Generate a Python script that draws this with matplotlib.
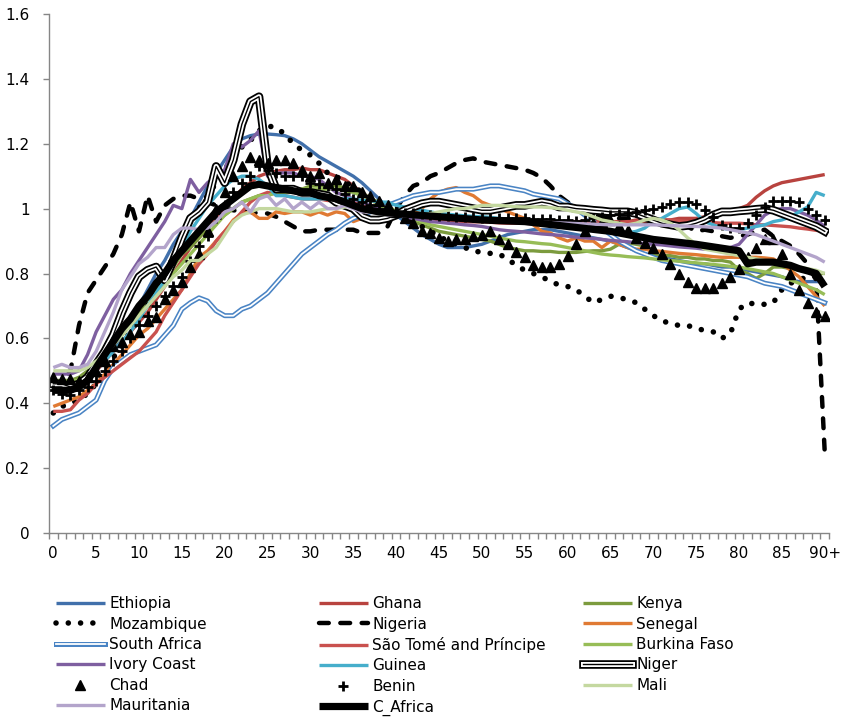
import numpy as np
import matplotlib.pyplot as plt

ages = np.arange(91)
age_ticks = list(range(0, 91, 5))
age_labels = [str(a) for a in range(0, 90, 5)] + ['90+']

ethiopia = [0.45, 0.45, 0.45, 0.46, 0.48, 0.50, 0.53, 0.57, 0.61, 0.65,
            0.70, 0.75, 0.80, 0.84, 0.89, 0.93, 0.97, 1.02, 1.07, 1.11,
            1.15, 1.19, 1.215, 1.225, 1.23, 1.23, 1.228, 1.225, 1.215, 1.20,
            1.18, 1.16, 1.145, 1.13, 1.115, 1.10, 1.08, 1.055, 1.03, 1.00,
            0.98, 0.96, 0.94, 0.92, 0.905, 0.89, 0.88, 0.88, 0.88, 0.885,
            0.89, 0.90, 0.91, 0.92, 0.925, 0.93, 0.935, 0.935, 0.935, 0.93,
            0.925, 0.92, 0.915, 0.91, 0.905, 0.90, 0.89, 0.88, 0.87, 0.86,
            0.855, 0.85, 0.845, 0.84, 0.835, 0.83, 0.83, 0.825, 0.82, 0.82,
            0.815, 0.81, 0.805, 0.80, 0.795, 0.79, 0.78, 0.775, 0.775, 0.775, 0.775]
ghana = [0.44, 0.44, 0.44, 0.45, 0.47, 0.50, 0.53, 0.56, 0.59, 0.62,
         0.65, 0.68, 0.72, 0.76, 0.80, 0.84, 0.88, 0.91, 0.94, 0.97,
         1.00, 1.03, 1.06, 1.08, 1.10, 1.11, 1.115, 1.12, 1.12, 1.125,
         1.12, 1.12, 1.11, 1.10, 1.09, 1.07, 1.05, 1.03, 1.01, 0.99,
         0.98, 0.975, 0.97, 0.97, 0.97, 0.97, 0.965, 0.965, 0.96, 0.96,
         0.96, 0.96, 0.96, 0.96, 0.96, 0.96, 0.96, 0.96, 0.96, 0.96,
         0.96, 0.96, 0.96, 0.96, 0.96, 0.96, 0.96, 0.96, 0.965, 0.965,
         0.965, 0.965, 0.965, 0.97, 0.97, 0.97, 0.975, 0.98, 0.985, 0.99,
         1.00, 1.01, 1.035, 1.055, 1.07, 1.08, 1.085, 1.09, 1.095, 1.10, 1.105]
kenya = [0.47, 0.47, 0.47, 0.48, 0.50, 0.52, 0.55, 0.58, 0.62, 0.65,
         0.68, 0.72, 0.75, 0.79, 0.82, 0.86, 0.88, 0.91, 0.94, 0.96,
         0.98, 1.00, 1.02, 1.03, 1.04, 1.04, 1.05, 1.05, 1.06, 1.06,
         1.07, 1.07, 1.07, 1.07, 1.065, 1.06, 1.05, 1.03, 1.02, 1.01,
         0.99, 0.97, 0.96, 0.95, 0.94, 0.93, 0.925, 0.92, 0.915, 0.91,
         0.905, 0.90, 0.89, 0.88, 0.875, 0.87, 0.87, 0.868, 0.868, 0.865,
         0.865, 0.865, 0.868, 0.87, 0.87, 0.875, 0.89, 0.895, 0.89, 0.885,
         0.86, 0.855, 0.855, 0.85, 0.85, 0.845, 0.845, 0.84, 0.84, 0.835,
         0.81, 0.80, 0.785, 0.80, 0.82, 0.82, 0.815, 0.81, 0.805, 0.80, 0.80]
mozambique = [0.37, 0.39, 0.40, 0.41, 0.43, 0.46, 0.50, 0.54, 0.58, 0.62,
              0.66, 0.70, 0.75, 0.80, 0.85, 0.90, 0.96, 1.00, 1.04, 1.08,
              1.12, 1.16, 1.19, 1.21, 1.24, 1.255, 1.25, 1.23, 1.20, 1.18,
              1.165, 1.14, 1.11, 1.10, 1.08, 1.07, 1.05, 1.03, 1.02, 1.00,
              0.99, 0.975, 0.96, 0.945, 0.93, 0.915, 0.90, 0.89, 0.88, 0.87,
              0.865, 0.862, 0.86, 0.845, 0.825, 0.81, 0.80, 0.79, 0.775, 0.765,
              0.76, 0.75, 0.73, 0.71, 0.72, 0.73, 0.725, 0.72, 0.71, 0.69,
              0.67, 0.655, 0.645, 0.64, 0.64, 0.63, 0.625, 0.62, 0.60, 0.615,
              0.69, 0.71, 0.705, 0.705, 0.71, 0.75, 0.77, 0.78, 0.79, 0.79, 0.78]
nigeria = [0.45, 0.46, 0.50, 0.64, 0.74, 0.78, 0.82, 0.86, 0.92, 1.02,
           0.93, 1.04, 0.96, 1.01, 1.03, 1.04, 1.04, 1.03, 1.02, 1.01,
           1.00, 0.995, 0.99, 0.99, 0.985, 0.985, 0.975, 0.96, 0.945, 0.93,
           0.93, 0.935, 0.935, 0.935, 0.935, 0.935, 0.925, 0.925, 0.925, 0.945,
           1.00, 1.04, 1.07, 1.08, 1.10, 1.11, 1.125, 1.14, 1.15, 1.155,
           1.145, 1.14, 1.135, 1.13, 1.125, 1.12, 1.11, 1.095, 1.07, 1.04,
           1.02, 1.00, 0.99, 0.98, 0.975, 0.97, 0.97, 0.97, 0.965, 0.96,
           0.96, 0.955, 0.955, 0.95, 0.945, 0.93, 0.935, 0.93, 0.915, 0.91,
           0.915, 0.92, 0.93, 0.935, 0.915, 0.90, 0.885, 0.86, 0.83, 0.78, 0.25]
senegal = [0.39, 0.40, 0.41, 0.42, 0.44, 0.46, 0.49, 0.52, 0.55, 0.58,
           0.61, 0.63, 0.66, 0.69, 0.72, 0.75, 0.80, 0.85, 0.87, 0.90,
           0.93, 0.965, 0.985, 0.99, 0.97, 0.97, 0.99, 0.985, 0.99, 0.99,
           0.98, 0.99, 0.98, 0.99, 0.985, 0.96, 0.97, 0.96, 0.96, 0.975,
           0.98, 0.985, 0.99, 1.00, 1.03, 1.05, 1.06, 1.065, 1.05, 1.04,
           1.02, 1.01, 1.00, 0.99, 0.98, 0.97, 0.95, 0.93, 0.925, 0.91,
           0.90, 0.91, 0.90, 0.90, 0.88, 0.90, 0.89, 0.88, 0.875, 0.875,
           0.87, 0.868, 0.865, 0.862, 0.86, 0.858, 0.855, 0.852, 0.85, 0.85,
           0.85, 0.85, 0.85, 0.848, 0.845, 0.83, 0.81, 0.79, 0.76, 0.73, 0.70]
south_africa = [0.33, 0.35, 0.36, 0.37, 0.39, 0.41, 0.47, 0.51, 0.53, 0.55,
                0.56, 0.57, 0.58, 0.61, 0.64, 0.69, 0.71, 0.725, 0.715, 0.685,
                0.67, 0.67, 0.69, 0.70, 0.72, 0.74, 0.77, 0.80, 0.83, 0.86,
                0.88, 0.90, 0.92, 0.935, 0.955, 0.97, 0.98, 0.99, 1.00, 1.01,
                1.02, 1.03, 1.04, 1.045, 1.05, 1.05, 1.055, 1.06, 1.06, 1.06,
                1.065, 1.07, 1.07, 1.065, 1.06, 1.055, 1.045, 1.04, 1.035, 1.03,
                1.015, 1.00, 0.98, 0.96, 0.94, 0.92, 0.90, 0.885, 0.87, 0.86,
                0.85, 0.84, 0.835, 0.83, 0.825, 0.82, 0.815, 0.81, 0.805, 0.80,
                0.795, 0.79, 0.78, 0.77, 0.765, 0.76, 0.75, 0.74, 0.73, 0.72, 0.71]
sao_tome = [0.375, 0.375, 0.38, 0.41, 0.43, 0.46, 0.48, 0.50, 0.52, 0.54,
            0.56, 0.59, 0.62, 0.67, 0.71, 0.75, 0.79, 0.83, 0.86, 0.90,
            0.93, 0.96, 0.99, 1.02, 1.04, 1.05, 1.045, 1.04, 1.035, 1.03,
            1.03, 1.03, 1.025, 1.025, 1.02, 1.02, 1.01, 1.00, 0.995, 0.99,
            0.985, 0.98, 0.975, 0.97, 0.97, 0.965, 0.965, 0.96, 0.96, 0.96,
            0.96, 0.958, 0.956, 0.955, 0.955, 0.955, 0.953, 0.952, 0.95, 0.95,
            0.95, 0.95, 0.952, 0.955, 0.955, 0.957, 0.958, 0.96, 0.96, 0.962,
            0.965, 0.965, 0.965, 0.962, 0.96, 0.96, 0.958, 0.957, 0.955, 0.955,
            0.955, 0.953, 0.95, 0.95, 0.948, 0.946, 0.944, 0.94, 0.937, 0.933, 0.93]
burkina = [0.47, 0.47, 0.47, 0.47, 0.49, 0.52, 0.55, 0.58, 0.61, 0.64,
           0.67, 0.70, 0.74, 0.77, 0.80, 0.83, 0.86, 0.89, 0.92, 0.95,
           0.98, 1.00, 1.02, 1.03, 1.04, 1.04, 1.05, 1.05, 1.05, 1.06,
           1.06, 1.06, 1.06, 1.06, 1.055, 1.05, 1.04, 1.03, 1.01, 1.00,
           0.99, 0.98, 0.97, 0.96, 0.95, 0.945, 0.94, 0.935, 0.93, 0.925,
           0.92, 0.915, 0.91, 0.905, 0.90, 0.898, 0.895, 0.892, 0.89, 0.885,
           0.88, 0.875, 0.87, 0.865, 0.86, 0.857, 0.855, 0.852, 0.85, 0.848,
           0.845, 0.842, 0.84, 0.838, 0.835, 0.833, 0.83, 0.828, 0.825, 0.822,
           0.82, 0.815, 0.81, 0.805, 0.80, 0.79, 0.78, 0.77, 0.76, 0.75, 0.735]
ivory_coast = [0.49, 0.49, 0.49, 0.50, 0.55, 0.62, 0.67, 0.72, 0.75, 0.80,
               0.84, 0.88, 0.92, 0.96, 1.01, 1.00, 1.09, 1.05, 1.08, 1.10,
               1.12, 1.20, 1.19, 1.21, 1.24, 1.10, 1.11, 1.11, 1.11, 1.10,
               1.10, 1.09, 1.07, 1.05, 1.04, 1.03, 1.02, 1.01, 1.00, 0.99,
               0.98, 0.975, 0.97, 0.965, 0.96, 0.958, 0.955, 0.953, 0.95, 0.948,
               0.945, 0.94, 0.935, 0.932, 0.93, 0.928, 0.925, 0.922, 0.92, 0.918,
               0.915, 0.912, 0.91, 0.908, 0.905, 0.902, 0.90, 0.898, 0.895, 0.892,
               0.89, 0.888, 0.885, 0.882, 0.88, 0.878, 0.875, 0.875, 0.875, 0.88,
               0.89, 0.92, 0.95, 0.98, 0.995, 1.00, 1.00, 0.99, 0.98, 0.965, 0.945]
guinea = [0.46, 0.46, 0.46, 0.46, 0.48, 0.51, 0.53, 0.56, 0.59, 0.62,
          0.66, 0.70, 0.74, 0.78, 0.83, 0.88, 0.93, 0.97, 1.01, 1.04,
          1.07, 1.09, 1.10, 1.10, 1.09, 1.07, 1.04, 1.04, 1.035, 1.03,
          1.03, 1.03, 1.03, 1.03, 1.03, 1.03, 1.025, 1.025, 1.02, 1.02,
          1.01, 1.005, 1.00, 0.995, 0.99, 0.985, 0.983, 0.98, 0.978, 0.976,
          0.975, 0.973, 0.97, 0.968, 0.966, 0.965, 0.963, 0.96, 0.958, 0.956,
          0.955, 0.95, 0.945, 0.94, 0.935, 0.93, 0.928, 0.925, 0.93, 0.94,
          0.96, 0.97, 0.985, 1.00, 1.005, 0.985, 0.96, 0.95, 0.94, 0.935,
          0.935, 0.94, 0.945, 0.95, 0.96, 0.965, 0.975, 0.99, 1.005, 1.05, 1.04]
niger = [0.46, 0.46, 0.45, 0.46, 0.48, 0.52, 0.56, 0.61, 0.68, 0.74,
         0.79, 0.81, 0.82, 0.78, 0.84, 0.91, 0.97, 0.99, 1.02, 1.13,
         1.08, 1.15, 1.26, 1.33, 1.345, 1.13, 1.06, 1.06, 1.06, 1.05,
         1.05, 1.045, 1.04, 1.02, 1.01, 1.00, 0.975, 0.965, 0.965, 0.97,
         0.98, 0.995, 1.005, 1.015, 1.02, 1.02, 1.015, 1.01, 1.005, 1.00,
         0.995, 0.995, 1.00, 1.005, 1.01, 1.01, 1.015, 1.02, 1.015, 1.005,
         1.005, 1.00, 0.998, 0.995, 0.993, 0.99, 0.99, 0.99, 0.985, 0.975,
         0.965, 0.955, 0.95, 0.945, 0.948, 0.955, 0.965, 0.98, 0.99, 0.99,
         0.993, 0.995, 0.998, 1.00, 0.995, 0.985, 0.975, 0.965, 0.955, 0.945, 0.93]
chad = [0.48, 0.475, 0.475, 0.47, 0.48, 0.50, 0.53, 0.575, 0.59, 0.615,
        0.62, 0.655, 0.665, 0.72, 0.75, 0.775, 0.82, 0.86, 0.93, 1.00,
        1.05, 1.10, 1.13, 1.16, 1.15, 1.14, 1.15, 1.15, 1.14, 1.12,
        1.10, 1.11, 1.08, 1.09, 1.07, 1.07, 1.05, 1.04, 1.025, 1.01,
        0.99, 0.97, 0.955, 0.93, 0.925, 0.91, 0.90, 0.905, 0.905, 0.915,
        0.92, 0.93, 0.905, 0.89, 0.865, 0.85, 0.825, 0.82, 0.82, 0.83,
        0.855, 0.89, 0.93, 0.955, 0.96, 0.965, 0.945, 0.935, 0.91, 0.895,
        0.88, 0.86, 0.83, 0.80, 0.775, 0.755, 0.755, 0.755, 0.77, 0.79,
        0.815, 0.85, 0.88, 0.905, 0.905, 0.86, 0.80, 0.75, 0.71, 0.68, 0.67]
benin = [0.44, 0.43, 0.425, 0.44, 0.45, 0.47, 0.50, 0.53, 0.56, 0.60,
         0.64, 0.67, 0.70, 0.73, 0.76, 0.79, 0.84, 0.885, 0.915, 0.97,
         1.01, 1.05, 1.08, 1.10, 1.13, 1.12, 1.11, 1.10, 1.10, 1.10,
         1.08, 1.075, 1.07, 1.06, 1.045, 1.03, 1.02, 1.01, 1.00, 0.995,
         0.99, 0.987, 0.985, 0.982, 0.98, 0.978, 0.976, 0.975, 0.974, 0.973,
         0.972, 0.971, 0.97, 0.97, 0.97, 0.97, 0.969, 0.968, 0.967, 0.966,
         0.965, 0.962, 0.965, 0.97, 0.975, 0.98, 0.982, 0.985, 0.99, 0.995,
         1.00, 1.005, 1.015, 1.02, 1.02, 1.015, 0.995, 0.975, 0.95, 0.94,
         0.94, 0.955, 0.98, 1.005, 1.025, 1.025, 1.025, 1.02, 1.00, 0.98, 0.965]
mali = [0.50, 0.50, 0.50, 0.50, 0.51, 0.53, 0.55, 0.58, 0.61, 0.64,
        0.67, 0.70, 0.73, 0.76, 0.79, 0.81, 0.84, 0.84, 0.86, 0.88,
        0.92, 0.96, 0.98, 0.99, 1.00, 1.00, 1.00, 0.995, 0.99, 0.99,
        0.99, 0.995, 1.00, 1.00, 1.005, 1.01, 1.00, 0.99, 0.985, 0.98,
        0.98, 0.98, 0.98, 0.98, 0.985, 0.99, 0.995, 1.00, 1.00, 1.005,
        1.01, 1.01, 1.01, 1.008, 1.006, 1.005, 1.005, 1.005, 1.003, 1.00,
        0.995, 0.99, 0.985, 0.975, 0.965, 0.96, 0.955, 0.95, 0.955, 0.965,
        0.97, 0.965, 0.955, 0.935, 0.91, 0.89, 0.875, 0.87, 0.865, 0.86,
        0.855, 0.85, 0.845, 0.84, 0.835, 0.83, 0.825, 0.82, 0.815, 0.81, 0.80]
mauritania = [0.51, 0.52, 0.51, 0.51, 0.52, 0.56, 0.62, 0.68, 0.75, 0.79,
              0.83, 0.85, 0.88, 0.88, 0.92, 0.94, 0.94, 0.935, 0.94, 0.96,
              0.99, 1.00, 1.02, 0.99, 1.03, 1.04, 1.01, 1.03, 1.00, 1.02,
              1.00, 1.02, 1.00, 1.00, 1.01, 1.00, 0.99, 0.99, 0.985, 0.98,
              0.98, 0.978, 0.976, 0.975, 0.973, 0.972, 0.97, 0.968, 0.967, 0.966,
              0.965, 0.964, 0.963, 0.962, 0.961, 0.96, 0.959, 0.958, 0.957, 0.956,
              0.955, 0.954, 0.953, 0.952, 0.951, 0.95, 0.95, 0.95, 0.95, 0.95,
              0.95, 0.949, 0.948, 0.947, 0.946, 0.945, 0.944, 0.942, 0.94, 0.935,
              0.93, 0.925, 0.92, 0.91, 0.90, 0.89, 0.88, 0.87, 0.86, 0.85, 0.835]
c_africa = [0.44, 0.44, 0.44, 0.45, 0.47, 0.51, 0.55, 0.59, 0.63, 0.66,
            0.70, 0.73, 0.77, 0.80, 0.84, 0.87, 0.90, 0.93, 0.96, 0.99,
            1.01, 1.03, 1.05, 1.07, 1.075, 1.07, 1.065, 1.06, 1.055, 1.05,
            1.05, 1.04, 1.035, 1.03, 1.02, 1.01, 1.00, 0.995, 0.99, 0.987,
            0.985, 0.983, 0.981, 0.979, 0.977, 0.975, 0.973, 0.971, 0.969, 0.967,
            0.965, 0.964, 0.963, 0.962, 0.961, 0.96, 0.957, 0.954, 0.951, 0.948,
            0.945, 0.942, 0.939, 0.936, 0.933, 0.93, 0.925, 0.92, 0.915, 0.91,
            0.905, 0.902, 0.899, 0.896, 0.893, 0.89, 0.886, 0.882, 0.878, 0.874,
            0.87, 0.83, 0.835, 0.835, 0.835, 0.83, 0.825, 0.815, 0.808, 0.80, 0.76]

plt.rcParams['font.family'] = ['DejaVu Sans']

fig = plt.figure(figsize=(8.41, 7.18), dpi=100)
ax = fig.add_axes([49 / 841, 1 - 533 / 718, 780 / 841, 519 / 718])

h = {}


def solid(name, y, color, lw=2.4):
    ln, = ax.plot(ages, y, color=color, lw=lw, solid_joinstyle='round', solid_capstyle='butt')
    h[name] = ln


solid('Ethiopia', ethiopia, '#4170AB')
solid('Ghana', ghana, '#B8433F')
solid('Kenya', kenya, '#7C9B3E')
h['Mozambique'], = ax.plot(ages, mozambique, color='black', lw=4, ls=(0, (0.01, 2.2)),
                           dash_capstyle='round')
h['Nigeria'], = ax.plot(ages, nigeria, color='black', lw=3.2, ls=(0, (2.2, 2.6)),
                        dash_capstyle='round')
solid('Senegal', senegal, '#E07A33')
sa1, = ax.plot(ages, south_africa, color='#4A84C4', lw=3.6, solid_joinstyle='round')
sa2, = ax.plot(ages, south_africa, color='white', lw=1.3, solid_joinstyle='round')
h['South Africa'] = (sa1, sa2)
solid('São Tomé and Príncipe', sao_tome, '#C9514E')
solid('Burkina Faso', burkina, '#97BD57')
solid('Ivory Coast', ivory_coast, '#7E5FA0')
solid('Guinea', guinea, '#46AECB')
n1, = ax.plot(ages, niger, color='black', lw=6.2, solid_joinstyle='round')
n2, = ax.plot(ages, niger, color='white', lw=3.6, solid_joinstyle='round')
n3, = ax.plot(ages, niger, color='black', lw=1.0, solid_joinstyle='round')
h['Niger'] = (n1, n2, n3)
h['Chad'], = ax.plot(ages, chad, ls='none', marker='^', ms=7.5, color='black')
h['Benin'], = ax.plot(ages, benin, ls='none', marker='+', ms=7.5, mew=2, color='black')
solid('Mali', mali, '#C4D8A0')
solid('Mauritania', mauritania, '#B3A4CB')
solid('C_Africa', c_africa, 'black', lw=5.2)

ax.set_xlim(-0.5, 90.5)
ax.set_ylim(0, 1.6)
ax.set_xticks(age_ticks)
ax.set_xticklabels(age_labels)
ax.set_xticks(np.arange(-0.5, 91, 1), minor=True)
ax.set_yticks(np.arange(0, 1.61, 0.2))
ax.set_yticklabels([f'{v:g}' for v in np.arange(0, 1.61, 0.2).round(1)])
ax.tick_params(axis='x', which='major', length=0, pad=9, labelsize=11)
ax.tick_params(axis='x', which='minor', length=4, width=1, color='#868686', direction='out')
ax.tick_params(axis='y', length=4, width=1, color='#868686', direction='out', pad=10, labelsize=11)
for s in ['top', 'right']:
    ax.spines[s].set_visible(False)
for s in ['left', 'bottom']:
    ax.spines[s].set_color('#868686')
    ax.spines[s].set_linewidth(1)

columns = [
    ['Ethiopia', 'Mozambique', 'South Africa', 'Ivory Coast', 'Chad', 'Mauritania'],
    ['Ghana', 'Nigeria', 'São Tomé and Príncipe', 'Guinea', 'Benin', 'C_Africa'],
    ['Kenya', 'Senegal', 'Burkina Faso', 'Niger', 'Mali'],
]
col_x = [56, 319, 583]
for names, x0 in zip(columns, col_x):
    fig.legend([h[n] for n in names], names, loc='upper left',
               bbox_to_anchor=(x0 / 841, 1 - 596 / 718), frameon=False,
               fontsize=11, borderpad=0, borderaxespad=0, handlelength=3.2,
               handletextpad=0.3, labelspacing=0.36)

fig.savefig('out.png', dpi=100)
